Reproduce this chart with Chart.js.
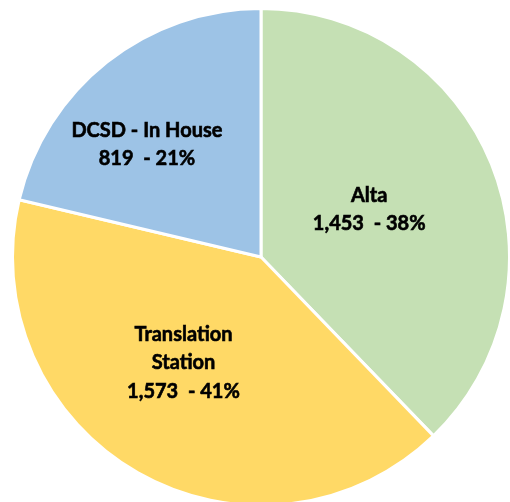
<!DOCTYPE html>
<html>
<head>
<meta charset="utf-8">
<script src="https://cdn.jsdelivr.net/npm/chart.js@4"></script>
<style>
  html, body { margin: 0; padding: 0; background: #fff; overflow: hidden; }
  #pie { display: block; }
</style>
</head>
<body>
<canvas id="pie" width="512" height="512"></canvas>
<script>
const vendors = ["Alta", "Translation Station", "DCSD - In House"];
const requests = [1453, 1573, 819];
const percents = ["38%", "41%", "21%"];

const sliceColors = ["#C5E0B4", "#FFD966", "#9DC3E6"];

// label text split over lines, and nudge from the slice midpoint (px)
const labelLines = [["Alta"], ["Translation", "Station"], ["DCSD - In House"]];
const labelNudge = [[-7, -1], [-16, -2], [-37, -15]];

/* ================= SLICE LABELS ================= */
const sliceLabels = {
  id: "sliceLabels",
  afterDatasetsDraw(chart) {
    const ctx = chart.ctx;
    const arcs = chart.getDatasetMeta(0).data;
    ctx.save();
    ctx.font = "bold 20px Lato";
    ctx.fillStyle = "#000";
    ctx.textAlign = "center";
    ctx.textBaseline = "middle";
    const lineH = 28.5;

    arcs.forEach((arc, i) => {
      const p = arc.tooltipPosition();
      const lines = labelLines[i].concat(
        requests[i].toLocaleString("en-US") + "  - " + percents[i]
      );
      const x = p.x + labelNudge[i][0];
      const y0 = p.y + labelNudge[i][1] - (lines.length - 1) * lineH / 2;
      lines.forEach((t, k) => {
        // a hair of stroke to get closer to the heavier original face
        ctx.lineWidth = 0.6;
        ctx.strokeStyle = "#000";
        ctx.strokeText(t, x, y0 + k * lineH);
        ctx.fillText(t, x, y0 + k * lineH);
      });
    });
    ctx.restore();
  }
};

new Chart(document.getElementById("pie"), {
  type: "pie",
  data: {
    labels: vendors,
    datasets: [{
      data: requests,
      backgroundColor: sliceColors,
      borderColor: "#ffffff",
      borderWidth: 3
    }]
  },
  options: {
    responsive: false,
    animation: false,
    layout: { padding: { left: 11, right: 1, top: 7, bottom: 5 } },
    plugins: {
      legend: { display: false },
      tooltip: { enabled: false }
    }
  },
  plugins: [sliceLabels]
});
</script>
</body>
</html>
